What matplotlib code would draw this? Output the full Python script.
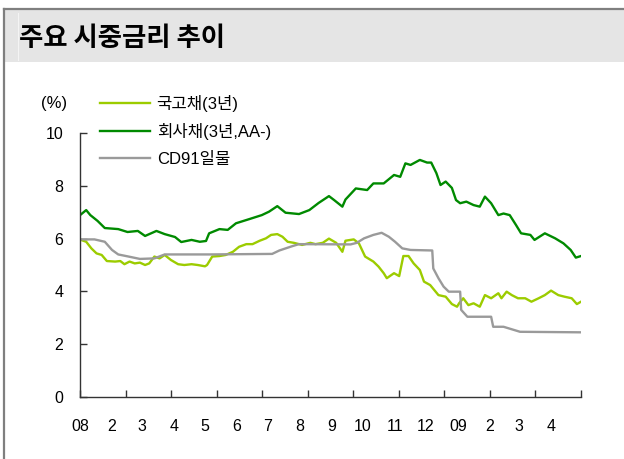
import matplotlib
matplotlib.use("Agg")
import matplotlib.pyplot as plt
import matplotlib.dates as mdates
import numpy as np
import pandas as pd
from matplotlib.lines import Line2D
from matplotlib.patches import Rectangle

plt.rcParams['font.family'] = ['Liberation Sans', 'Noto Sans CJK KR', 'DejaVu Sans']

# ---------------- data ----------------
title = "주요 시중금리 추이"
unit_label = "(%)"
series_names = ["국고채(3년)", "회사채(3년,AA-)", "CD91일물"]
series_colors = ["#9ccc00", "#008a00", "#9a9a9a"]
month_labels = ["08", "2", "3", "4", "5", "6", "7", "8", "9", "10", "11", "12", "09", "2", "3", "4"]
y_ticks = [0, 2, 4, 6, 8, 10]

gov_dates = ["2008-01-02", "2008-01-07", "2008-01-12", "2008-01-17", "2008-01-22", "2008-01-27",
             "2008-02-04", "2008-02-09", "2008-02-13", "2008-02-18", "2008-02-23", "2008-02-28",
             "2008-03-04", "2008-03-08", "2008-03-13", "2008-03-18", "2008-03-23", "2008-03-29",
             "2008-04-05", "2008-04-11", "2008-04-18", "2008-04-24", "2008-05-01", "2008-05-03",
             "2008-05-08", "2008-05-15", "2008-05-21", "2008-05-28", "2008-06-03", "2008-06-10",
             "2008-06-16", "2008-06-23", "2008-06-29", "2008-07-04", "2008-07-10", "2008-07-15",
             "2008-07-20", "2008-07-26", "2008-08-03", "2008-08-11", "2008-08-16", "2008-08-23",
             "2008-08-29", "2008-09-05", "2008-09-11", "2008-09-14", "2008-09-22", "2008-09-27",
             "2008-10-03", "2008-10-11", "2008-10-16", "2008-10-21", "2008-10-24", "2008-10-31",
             "2008-11-05", "2008-11-09", "2008-11-14", "2008-11-19", "2008-11-25", "2008-11-29",
             "2008-12-05", "2008-12-13", "2008-12-20", "2008-12-26", "2008-12-31", "2009-01-02",
             "2009-01-06", "2009-01-11", "2009-01-16", "2009-01-22", "2009-01-27", "2009-02-02",
             "2009-02-09", "2009-02-12", "2009-02-17", "2009-02-22", "2009-02-28", "2009-03-07",
             "2009-03-13", "2009-03-20", "2009-03-26", "2009-04-01", "2009-04-08", "2009-04-14",
             "2009-04-21", "2009-04-26", "2009-04-30"]
gov_values = [5.95, 5.88, 5.63, 5.44, 5.38, 5.15,
              5.13, 5.15, 5.03, 5.13, 5.06, 5.09,
              5.00, 5.06, 5.32, 5.25, 5.38, 5.19,
              5.03, 5.00, 5.03, 5.00, 4.95, 5.00,
              5.32, 5.34, 5.38, 5.50, 5.69, 5.79,
              5.79, 5.92, 6.01, 6.14, 6.17, 6.07,
              5.88, 5.84, 5.76, 5.84, 5.79, 5.84,
              6.00, 5.84, 5.50, 5.92, 5.97, 5.82,
              5.32, 5.13, 4.94, 4.69, 4.50, 4.69,
              4.58, 5.34, 5.34, 5.06, 4.81, 4.37,
              4.24, 3.86, 3.80, 3.52, 3.42, 3.55,
              3.74, 3.48, 3.55, 3.42, 3.86, 3.74,
              3.93, 3.74, 3.99, 3.86, 3.74, 3.74,
              3.61, 3.74, 3.86, 4.03, 3.86, 3.80,
              3.74, 3.52, 3.61]

corp_dates = ["2008-01-02", "2008-01-07", "2008-01-11", "2008-01-18", "2008-01-25", "2008-02-07",
              "2008-02-16", "2008-02-26", "2008-03-04", "2008-03-15", "2008-03-23", "2008-04-02",
              "2008-04-08", "2008-04-18", "2008-04-26", "2008-05-02", "2008-05-05", "2008-05-15",
              "2008-05-23", "2008-05-31", "2008-06-13", "2008-06-25", "2008-07-02", "2008-07-10",
              "2008-07-18", "2008-07-31", "2008-08-10", "2008-08-19", "2008-08-29", "2008-09-03",
              "2008-09-11", "2008-09-14", "2008-09-24", "2008-10-05", "2008-10-11", "2008-10-21",
              "2008-10-31", "2008-11-06", "2008-11-11", "2008-11-16", "2008-11-25", "2008-12-02",
              "2008-12-06", "2008-12-11", "2008-12-15", "2008-12-20", "2008-12-26", "2008-12-30",
              "2009-01-03", "2009-01-09", "2009-01-16", "2009-01-22", "2009-01-27", "2009-02-02",
              "2009-02-09", "2009-02-14", "2009-02-20", "2009-02-26", "2009-03-03", "2009-03-12",
              "2009-03-16", "2009-03-26", "2009-04-05", "2009-04-13", "2009-04-20", "2009-04-25",
              "2009-04-30"]
corp_values = [6.92, 7.08, 6.89, 6.67, 6.40, 6.36,
               6.25, 6.29, 6.10, 6.29, 6.17, 6.06,
               5.87, 5.95, 5.88, 5.91, 6.20, 6.36,
               6.33, 6.58, 6.74, 6.89, 7.02, 7.23,
               6.98, 6.93, 7.08, 7.35, 7.61, 7.46,
               7.21, 7.48, 7.90, 7.84, 8.09, 8.09,
               8.41, 8.34, 8.85, 8.79, 8.98, 8.88,
               8.88, 8.48, 8.03, 8.16, 7.92, 7.46,
               7.34, 7.40, 7.27, 7.21, 7.59, 7.34,
               6.89, 6.95, 6.89, 6.52, 6.20, 6.14,
               5.95, 6.20, 6.01, 5.82, 5.57, 5.28,
               5.34]

cd_dates = ["2008-01-02", "2008-01-15", "2008-01-25", "2008-02-01", "2008-02-07", "2008-02-17",
            "2008-02-28", "2008-03-13", "2008-03-23", "2008-05-05", "2008-07-05", "2008-07-12",
            "2008-07-25", "2008-07-31", "2008-09-19", "2008-09-25", "2008-10-02", "2008-10-11",
            "2008-10-19", "2008-10-26", "2008-11-01", "2008-11-08", "2008-11-16", "2008-12-07",
            "2008-12-08", "2008-12-13", "2008-12-18", "2008-12-23", "2009-01-03", "2009-01-04",
            "2009-01-10", "2009-02-02", "2009-02-04", "2009-02-14", "2009-03-02", "2009-04-30"]
cd_values = [5.97, 5.97, 5.88, 5.57, 5.40, 5.32,
             5.23, 5.25, 5.40, 5.40, 5.42, 5.55,
             5.72, 5.79, 5.78, 5.84, 6.01, 6.14,
             6.22, 6.07, 5.88, 5.63, 5.57, 5.55,
             4.87, 4.50, 4.18, 3.99, 3.99, 3.30,
             3.04, 3.04, 2.66, 2.66, 2.47, 2.45]

# ---------------- figure ----------------
W, H = 624, 459
fig = plt.figure(figsize=(W / 100, H / 100), dpi=100)
fig.patch.set_facecolor("white")

# header band and frame
fig.add_artist(Rectangle((5 / W, 1 - 62 / H), 1 - 5 / W, 52 / H, transform=fig.transFigure,
                         facecolor="#e5e5e5", edgecolor="none", zorder=0))
fig.add_artist(Line2D([4 / W, 1], [1 - 9 / H, 1 - 9 / H], transform=fig.transFigure,
                      color="#7f7f7f", lw=1.6))
fig.add_artist(Line2D([4 / W, 4 / W], [0, 1 - 9 / H], transform=fig.transFigure,
                      color="#7f7f7f", lw=1.6))
fig.add_artist(Line2D([18 / W, 18 / W], [1 - 60 / H, 1 - 13 / H], transform=fig.transFigure,
                      color="#f4f4f4", lw=0.8))
fig.text(19 / W, 1 - 38 / H, title, fontsize=19, fontweight="bold", va="center", ha="left",
         family=["Noto Sans CJK KR", "DejaVu Sans"])

ax = fig.add_axes([80 / W, 1 - 397 / H, (581 - 80) / W, (397 - 133) / H])

gd = pd.to_datetime(gov_dates)
cdt = pd.to_datetime(corp_dates)
cd = pd.to_datetime(cd_dates)

ax.plot(gd, gov_values, color=series_colors[0], lw=1.7, solid_joinstyle="round")
ax.plot(cdt, corp_values, color=series_colors[1], lw=1.7, solid_joinstyle="round")
ax.plot(cd, cd_values, color=series_colors[2], lw=1.7, solid_joinstyle="round")

x0 = mdates.date2num(pd.Timestamp("2008-01-01"))
x1 = mdates.date2num(pd.Timestamp("2009-04-30"))
ax.set_xlim(x0, x1)
ax.set_ylim(0, 10)

for s in ["top", "right"]:
    ax.spines[s].set_visible(False)
for s in ["left", "bottom"]:
    ax.spines[s].set_color("#333333")
    ax.spines[s].set_linewidth(1.0)

ax.set_yticks(y_ticks)
ax.set_yticklabels([str(v) for v in y_ticks])
ax.tick_params(axis="y", direction="in", length=5, width=1, color="#333333",
               labelsize=11.5, pad=12)

ax.xaxis.remove_overlapping_locs = False
ax.set_xticks(np.linspace(x0, x1, 12))
ax.set_xticklabels([])
month_pos = mdates.date2num(pd.date_range("2008-01-01", periods=len(month_labels), freq="MS"))
ax.set_xticks(month_pos, minor=True)
ax.set_xticklabels(month_labels, minor=True)
ax.tick_params(axis="x", which="major", direction="in", length=5, width=1, color="#333333")
ax.tick_params(axis="x", which="minor", length=0, labelsize=11.5, pad=16)

handles = [Line2D([], [], color=c, lw=1.7) for c in series_colors]
leg = ax.legend(handles, series_names, loc="upper left", bbox_to_anchor=(100 / W, 1 - 95 / H),
                bbox_transform=fig.transFigure, frameon=False, fontsize=12,
                handlelength=3.0, handletextpad=0.4, labelspacing=0.68,
                borderaxespad=0, borderpad=0)
fig.text(41 / W, 1 - 104 / H, unit_label, fontsize=12, va="center", ha="left")

fig.savefig("out.png", dpi=100)
